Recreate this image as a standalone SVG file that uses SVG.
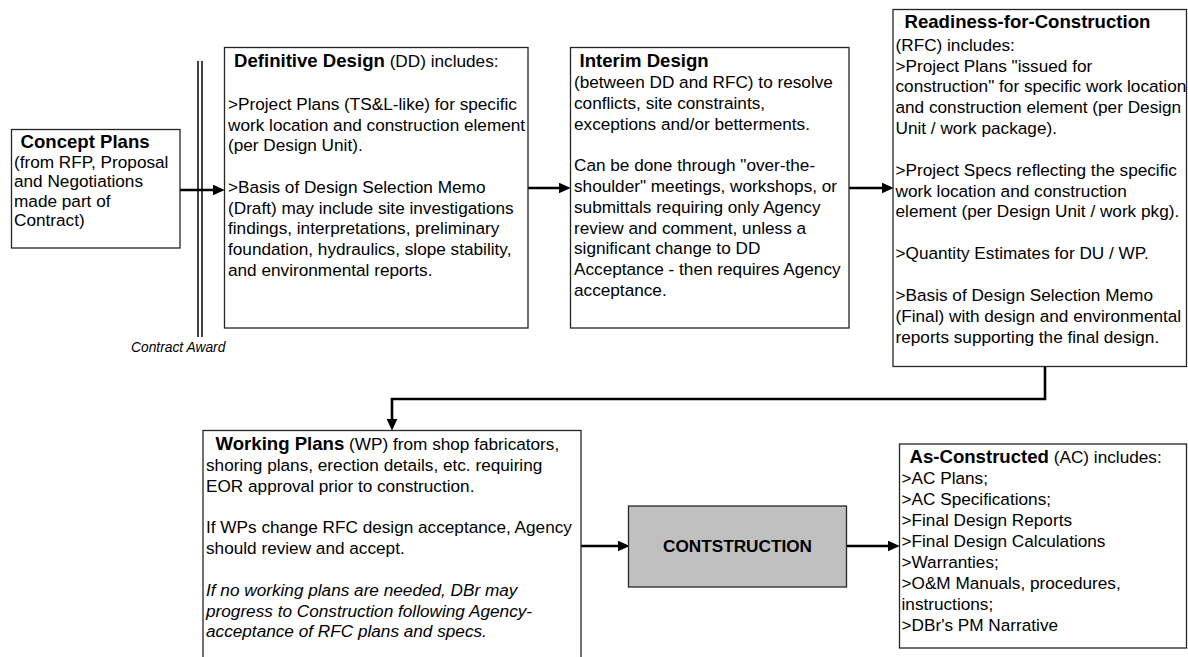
<svg xmlns="http://www.w3.org/2000/svg" width="1188" height="657" viewBox="0 0 1188 657">
<style>
  text { font-family: "Liberation Sans", Arial, sans-serif; fill: #000; }
  .b { font-size: 17.2px; }
  .t { font-size: 18.6px; font-weight: bold; }
  .i { font-style: italic; }
  .box { fill: #fff; stroke: #262626; stroke-width: 1.3; }
  .con { fill: none; stroke: #000; stroke-width: 2.6; }
</style>
<defs>
  <marker id="ah" markerUnits="userSpaceOnUse" markerWidth="12" markerHeight="11" viewBox="0 0 11 10" refX="3" refY="5" orient="auto">
    <path d="M0,0 L11,5 L0,10 z" fill="#000"/>
  </marker>
</defs>
<rect width="1188" height="657" fill="#fff"/>

<g id="contract-award">
  <line x1="198" y1="61" x2="198" y2="337" stroke="#000" stroke-width="1.5"/>
  <line x1="202" y1="61" x2="202" y2="337" stroke="#000" stroke-width="1.5"/>
  <text x="131" y="351.5" class="i" font-size="13.8px">Contract Award</text>
</g>

<g id="connectors">
  <path class="con" d="M180,190 H216" marker-end="url(#ah)"/>
  <path class="con" d="M528,188 H562" marker-end="url(#ah)"/>
  <path class="con" d="M849,188 H885" marker-end="url(#ah)"/>
  <path class="con" d="M1045,367 V399 H392 V422" marker-end="url(#ah)"/>
  <path class="con" d="M581,546 H621" marker-end="url(#ah)"/>
  <path class="con" d="M847,546 H891" marker-end="url(#ah)"/>
</g>

<g id="concept-plans">
  <rect class="box" x="11.5" y="129.5" width="168.5" height="118.5"/>
  <text x="20.5" y="147.5" class="t">Concept Plans</text>
  <text class="b" x="14">
    <tspan x="14" y="167.5">(from RFP, Proposal</tspan>
    <tspan x="14" y="187">and Negotiations</tspan>
    <tspan x="14" y="206.5">made part of</tspan>
    <tspan x="14" y="226">Contract)</tspan>
  </text>
</g>

<g id="definitive-design">
  <rect class="box" x="224.5" y="47.5" width="303.5" height="280.5"/>
  <text x="234" y="66.5"><tspan class="t">Definitive Design</tspan><tspan class="b"> (DD) includes:</tspan></text>
  <text class="b">
    <tspan x="228" y="110">&gt;Project Plans (TS&amp;L-like) for specific</tspan>
    <tspan x="228" y="130.7">work location and construction element</tspan>
    <tspan x="228" y="151.4">(per Design Unit).</tspan>
    <tspan x="228" y="192.8">&gt;Basis of Design Selection Memo</tspan>
    <tspan x="228" y="213.5">(Draft) may include site investigations</tspan>
    <tspan x="228" y="234.2">findings, interpretations, preliminary</tspan>
    <tspan x="228" y="254.9">foundation, hydraulics, slope stability,</tspan>
    <tspan x="228" y="275.6">and environmental reports.</tspan>
  </text>
</g>

<g id="interim-design">
  <rect class="box" x="570.5" y="47.5" width="278.5" height="280.5"/>
  <text x="579.5" y="66.5" class="t">Interim Design</text>
  <text class="b">
    <tspan x="574" y="88">(between DD and RFC) to resolve</tspan>
    <tspan x="574" y="108.8">conflicts, site constraints,</tspan>
    <tspan x="574" y="129.6">exceptions and/or betterments.</tspan>
    <tspan x="574" y="171.2">Can be done through "over-the-</tspan>
    <tspan x="574" y="192">shoulder" meetings, workshops, or</tspan>
    <tspan x="574" y="212.8">submittals requiring only Agency</tspan>
    <tspan x="574" y="233.6">review and comment, unless a</tspan>
    <tspan x="574" y="254.4">significant change to DD</tspan>
    <tspan x="574" y="275.2">Acceptance - then requires Agency</tspan>
    <tspan x="574" y="296">acceptance.</tspan>
  </text>
</g>

<g id="readiness-for-construction">
  <rect class="box" x="893" y="9.5" width="293.5" height="357"/>
  <text x="904.5" y="27.5" class="t">Readiness-for-Construction</text>
  <text class="b">
    <tspan x="895.5" y="50.7">(RFC) includes:</tspan>
    <tspan x="895.5" y="71.5">&gt;Project Plans "issued for</tspan>
    <tspan x="895.5" y="92.4">construction" for specific work location</tspan>
    <tspan x="895.5" y="113.2">and construction element (per Design</tspan>
    <tspan x="895.5" y="134">Unit / work package).</tspan>
    <tspan x="895.5" y="175.7">&gt;Project Specs reflecting the specific</tspan>
    <tspan x="895.5" y="196.6">work location and construction</tspan>
    <tspan x="895.5" y="217.4">element (per Design Unit / work pkg).</tspan>
    <tspan x="895.5" y="259.1">&gt;Quantity Estimates for DU / WP.</tspan>
    <tspan x="895.5" y="300.8">&gt;Basis of Design Selection Memo</tspan>
    <tspan x="895.5" y="321.7">(Final) with design and environmental</tspan>
    <tspan x="895.5" y="342.5">reports supporting the final design.</tspan>
  </text>
</g>

<g id="working-plans">
  <rect class="box" x="203" y="430.5" width="378" height="240"/>
  <text x="215.5" y="449.5"><tspan class="t">Working Plans</tspan><tspan class="b"> (WP) from shop fabricators,</tspan></text>
  <text class="b">
    <tspan x="206" y="471">shoring plans, erection details, etc. requiring</tspan>
    <tspan x="206" y="491.8">EOR approval prior to construction.</tspan>
    <tspan x="206" y="533.4">If WPs change RFC design acceptance, Agency</tspan>
    <tspan x="206" y="554.2">should review and accept.</tspan>
  </text>
  <text class="b i">
    <tspan x="206" y="595.8">If no working plans are needed, DBr may</tspan>
    <tspan x="206" y="616.6">progress to Construction following Agency-</tspan>
    <tspan x="206" y="637.4">acceptance of RFC plans and specs.</tspan>
  </text>
</g>

<g id="construction">
  <rect x="628.5" y="506" width="218" height="81" fill="#c0c0c0" stroke="#262626" stroke-width="1.3"/>
  <text x="737.5" y="552" text-anchor="middle" font-size="17.2px" font-weight="bold">CONTSTRUCTION</text>
</g>

<g id="as-constructed">
  <rect class="box" x="899.5" y="444" width="287" height="204"/>
  <text x="909.5" y="463"><tspan class="t">As-Constructed</tspan><tspan class="b"> (AC) includes:</tspan></text>
  <text class="b">
    <tspan x="901.5" y="484.3">&gt;AC Plans;</tspan>
    <tspan x="901.5" y="505.2">&gt;AC Specifications;</tspan>
    <tspan x="901.5" y="526.1">&gt;Final Design Reports</tspan>
    <tspan x="901.5" y="547">&gt;Final Design Calculations</tspan>
    <tspan x="901.5" y="567.9">&gt;Warranties;</tspan>
    <tspan x="901.5" y="588.8">&gt;O&amp;M Manuals, procedures,</tspan>
    <tspan x="901.5" y="609.7">instructions;</tspan>
    <tspan x="901.5" y="630.6">&gt;DBr's PM Narrative</tspan>
  </text>
</g>
</svg>
